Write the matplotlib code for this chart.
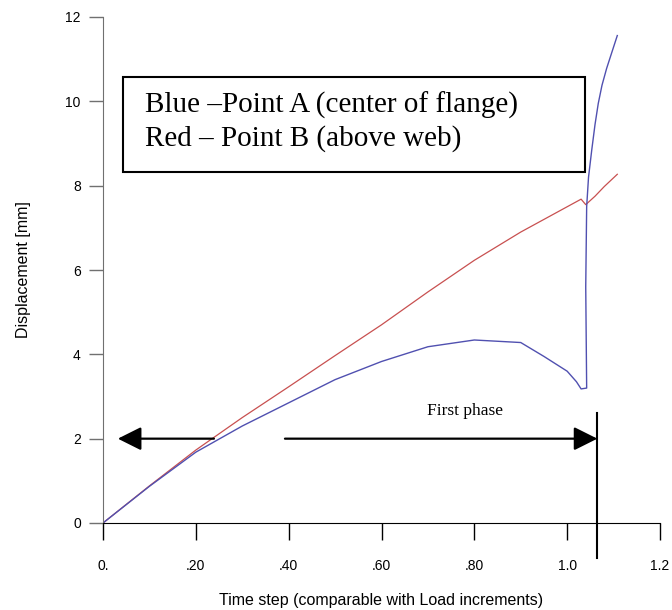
import numpy as np
import matplotlib.pyplot as plt
from matplotlib.patches import Rectangle

# time step (load increment) vs displacement [mm]
t_blue = [0.0, 0.1, 0.2, 0.3, 0.4, 0.5, 0.6, 0.7, 0.8, 0.9, 0.95, 1.0, 1.02, 1.03,
          1.042, 1.040, 1.042, 1.046, 1.053, 1.060, 1.067, 1.075, 1.085, 1.095, 1.108]
d_blue = [0.0, 0.87, 1.68, 2.3, 2.85, 3.4, 3.83, 4.18, 4.34, 4.28, 3.95, 3.6, 3.35, 3.18,
          3.2, 5.6, 7.5, 8.2, 8.85, 9.45, 9.95, 10.38, 10.78, 11.12, 11.56]

t_red = [0.0, 0.1, 0.2, 0.3, 0.4, 0.5, 0.6, 0.7, 0.8, 0.9, 1.0, 1.03, 1.04, 1.06, 1.08, 1.108]
d_red = [0.0, 0.88, 1.73, 2.5, 3.23, 3.97, 4.7, 5.48, 6.23, 6.9, 7.5, 7.68, 7.55, 7.75, 7.98, 8.27]

xticks = [0.0, 0.2, 0.4, 0.6, 0.8, 1.0, 1.2]
xlabels = ['0.', '.20', '.40', '.60', '.80', '1.0', '1.2']
yticks = [0, 2, 4, 6, 8, 10, 12]

phase_end = 1.065

fig = plt.figure(figsize=(6.72, 6.10), dpi=100)
ax = fig.add_axes([103/672, 87/610, 557/672, 506/610])

ax.plot(t_red, d_red, color='#c85050', lw=0.9)
ax.plot(t_blue, d_blue, color='#5050b0', lw=1.0)

ax.set_xlim(0, 1.2)
ax.set_ylim(0, 12)
ax.set_xticks(xticks)
ax.set_xticklabels(xlabels)
ax.set_yticks(yticks)

tickfont = ['Liberation Sans Narrow', 'Liberation Sans']
for lab in ax.get_xticklabels() + ax.get_yticklabels():
    lab.set_family(tickfont)
    lab.set_fontsize(10)
ax.tick_params(axis='x', length=12, width=1, pad=14, colors='black')
ax.tick_params(axis='y', length=10, width=1, pad=6, color='#707070')

for s in ['top', 'right']:
    ax.spines[s].set_visible(False)
ax.spines['left'].set_color('#707070')
ax.spines['bottom'].set_color('black')

ax.set_xlabel('Time step (comparable with Load increments)', family=tickfont, fontsize=11.5, labelpad=14)
ax.set_ylabel('Displacement [mm]', family=tickfont, fontsize=11.5, labelpad=25)

# phase marker and arrows
ax.plot([phase_end, phase_end], [2.62, -0.83], color='black', lw=1.5, clip_on=False)
astyle = dict(arrowstyle='-|>,head_length=0.8,head_width=0.4', color='black', lw=1.6,
              mutation_scale=18, shrinkA=0, shrinkB=0)
ax.annotate('', xy=(0.032, 2), xytext=(0.239, 2), arrowprops=astyle)
ax.annotate('', xy=(phase_end, 2), xytext=(0.392, 2), arrowprops=astyle)
ax.text(0.78, 2.65, 'First phase', family='Liberation Serif', fontsize=12.5,
        ha='center', va='center')

# legend box
ax.add_patch(Rectangle((0.043, 8.32), 0.996, 2.25, fill=False, edgecolor='black', lw=1.5))
ax.text(0.0905, 9.72, 'Blue \u2013Point A (center of flange)', family='Liberation Serif',
        fontsize=21, va='baseline')
ax.text(0.0905, 8.96, 'Red \u2013 Point B (above web)', family='Liberation Serif',
        fontsize=21, va='baseline')

fig.savefig('out.png', dpi=100)
